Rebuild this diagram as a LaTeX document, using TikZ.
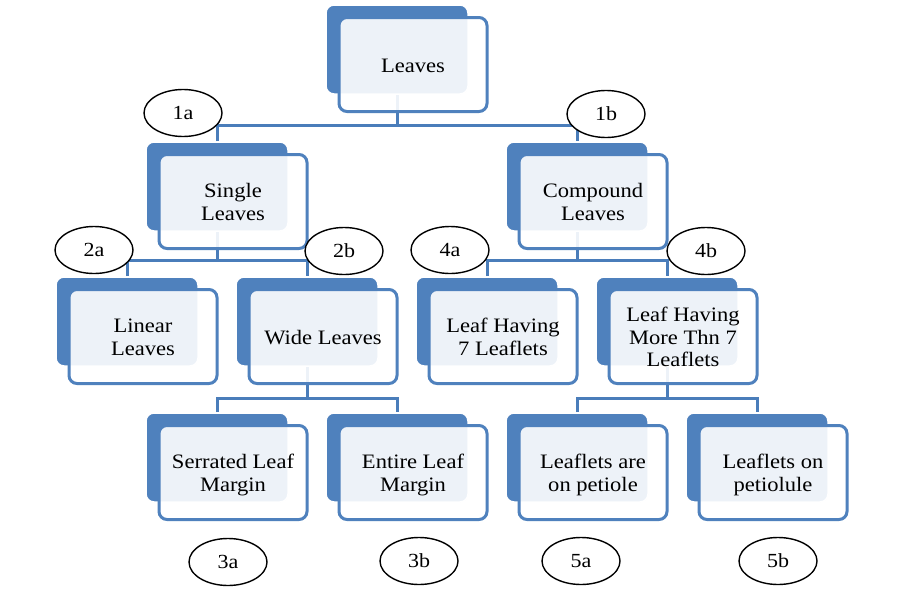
\documentclass[tikz,border=0pt]{standalone}
\usepackage{fontspec}
\setmainfont{Liberation Serif}[FakeStretch=1.1]
\usetikzlibrary{backgrounds,shapes.geometric}
\definecolor{accentblue}{HTML}{4F81BD}
\definecolor{lineblue}{HTML}{4A7DBA}
\tikzset{
  backbox/.style={rectangle, rounded corners=8pt, fill=accentblue, draw=white, line width=1.5pt,
    minimum width=142pt, minimum height=89pt, inner sep=0pt},
  frontbox/.style={rectangle, rounded corners=8pt, draw=accentblue, line width=3pt, fill=white,
    fill opacity=0.9, text opacity=1, minimum width=148pt, minimum height=94pt, inner sep=0pt,
    align=center, font=\fontsize{20.5}{22.7}\selectfont},
  tag/.style={ellipse, draw=black, line width=1.4pt, fill=white, minimum width=78pt,
    minimum height=47pt, inner sep=0pt, font=\fontsize{20}{22}\selectfont},
  conn/.style={draw=lineblue, line width=3pt}
}
\newcommand\leafbox[4]{%
  \node[backbox] (b#1) at (#2,#3+44.5) {};
  \node[frontbox] (f#1) at (#2+16,#3+59.5) {\raisebox{-3pt}[\height][\depth]{\begin{tabular}{@{}c@{}}#4\end{tabular}}};}
\begin{document}
\begin{tikzpicture}[x=1pt,y=-1pt]
\useasboundingbox (0,0) rectangle (900,600);
% boxes
\leafbox{0}{397}{5}{Leaves}
\leafbox{1}{217}{142}{Single\\Leaves}
\leafbox{2}{577}{142}{Compound\\Leaves}
\leafbox{3}{127}{277}{Linear\\Leaves}
\leafbox{4}{307}{277}{Wide Leaves}
\leafbox{5}{487}{277}{Leaf Having\\7 Leaflets}
\leafbox{6}{667}{277}{Leaf Having\\More Thn 7\\Leaflets}
\leafbox{7}{217}{413}{Serrated Leaf\\Margin}
\leafbox{8}{397}{413}{Entire Leaf\\Margin}
\leafbox{9}{577}{413}{Leaflets are\\on petiole}
\leafbox{10}{757}{413}{Leaflets on\\petiolule}
% junctions
\coordinate (j0) at (397,125.5);
\coordinate (j1) at (217,260.5);
\coordinate (j2) at (577,260.5);
\coordinate (j3) at (307,398);
\coordinate (j4) at (667,398);
\begin{scope}[on background layer]
\fill[white] (0,0) rectangle (900,600);
\draw[conn] (b0.center) -- (j0);
\draw[conn] (b1.north) |- (j0) -| (b2.north);
\draw[conn] (b1.center) -- (j1);
\draw[conn] (b3.north) |- (j1) -| (b4.north);
\draw[conn] (b2.center) -- (j2);
\draw[conn] (b5.north) |- (j2) -| (b6.north);
\draw[conn] (b4.center) -- (j3);
\draw[conn] (b7.north) |- (j3) -| (b8.north);
\draw[conn] (b6.center) -- (j4);
\draw[conn] (b9.north) |- (j4) -| (b10.north);
\end{scope}
% tags
\node[tag] (t1a) at (183,113) {1a};
\node[tag] (t1b) at (606,114) {1b};
\node[tag] (t2a) at (94,250) {2a};
\node[tag] (t2b) at (344,251) {2b};
\node[tag] (t4a) at (450,250) {4a};
\node[tag] (t4b) at (706,251) {4b};
\node[tag] (t3a) at (228,562) {3a};
\node[tag] (t3b) at (419,561) {3b};
\node[tag] (t5a) at (581,561) {5a};
\node[tag] (t5b) at (778,561) {5b};
\end{tikzpicture}
\end{document}
